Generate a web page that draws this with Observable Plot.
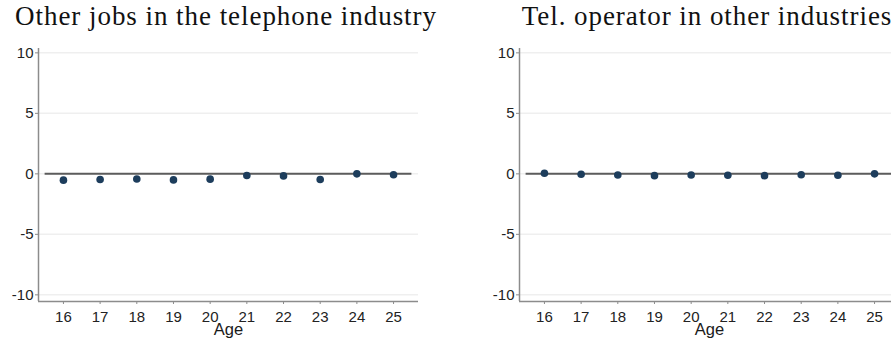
<!DOCTYPE html>
<html>
<head>
<meta charset="utf-8">
<script src="https://cdn.jsdelivr.net/npm/d3@7"></script>
<script src="https://cdn.jsdelivr.net/npm/@observablehq/plot@0.6"></script>
<style>
  html, body { margin: 0; padding: 0; background: #fff; }
  #wrap { position: relative; width: 891px; height: 344px; overflow: hidden; background: #fff; }
  .panel { position: absolute; top: 0; width: 450px; height: 344px; }
  .panel svg { position: absolute; left: 0; top: 0; }
  .panel svg text { font-family: "Liberation Sans", Arial, sans-serif; font-size: 15px; }
  .panel svg g[aria-label="text"] text { font-size: 16.5px; }
  .title {
    position: absolute; top: 1px; left: 226px; transform: translateX(-50%);
    white-space: nowrap; font-family: "Liberation Serif", "Times New Roman", serif;
    font-size: 27px; color: #111; letter-spacing: 0.95px;
  }
</style>
</head>
<body>
<div id="wrap"></div>
<script>
// Age at which the effect is estimated
const ages = [16, 17, 18, 19, 20, 21, 22, 23, 24, 25];

// Point estimates, other jobs in the telephone industry
const otherJobsTel = [-0.52, -0.47, -0.42, -0.50, -0.44, -0.14, -0.17, -0.47, 0.00, -0.08];

// Point estimates, telephone operator in other industries
const telOperatorOther = [0.05, -0.03, -0.10, -0.15, -0.10, -0.12, -0.15, -0.08, -0.12, 0.00];

const panelTitles = [
  "Other jobs in the telephone industry",
  "Tel. operator in other industries"
];
const yTicks = [-10, -5, 0, 5, 10];
const xLabel = "Age";

const sans = "'Liberation Sans', Arial, sans-serif";
const axisGray = "#8c8c8c";

function panel(values, title, left) {
  const data = ages.map((a, i) => ({age: a, est: values[i]}));
  const xDomain = [15.32, 25.68];
  const yDomain = [-10.55, 10.36];
  const lo = d3.min(ages) - 0.5, hi = d3.max(ages) + 0.5;

  const chart = Plot.plot({
    width: 450,
    height: 344,
    marginLeft: 38,
    marginRight: 32,
    marginTop: 48,
    marginBottom: 43,
    style: {fontFamily: sans, background: "transparent", overflow: "visible"},
    x: {domain: xDomain},
    y: {domain: yDomain},
    marks: [
      Plot.gridY(yTicks, {stroke: "#efefef", strokeOpacity: 1, strokeWidth: 1.5}),
      Plot.ruleX([xDomain[0]], {stroke: axisGray, strokeWidth: 1.5}),
      Plot.ruleY([yDomain[0]], {stroke: axisGray, strokeWidth: 1.5}),
      Plot.axisY(yTicks, {
        tickSize: 3, tickPadding: 2, stroke: axisGray, fill: "#222",
        label: null, tickFormat: d => String(d)
      }),
      Plot.axisX(ages, {
        tickSize: 3, tickPadding: 7, stroke: axisGray, fill: "#222",
        label: null, tickFormat: d => String(d)
      }),
      Plot.text([xLabel], {
        frameAnchor: "bottom", dy: 33, fill: "#1a1a1a"
      }),
      Plot.ruleY([0], {x1: lo, x2: hi, stroke: "#5c5c5c", strokeWidth: 2}),
      Plot.dot(data, {x: "age", y: "est", r: 3.8, fill: "#1d3d5c", stroke: "none"})
    ]
  });

  const div = document.createElement("div");
  div.className = "panel";
  div.style.left = left + "px";
  div.appendChild(chart);
  const t = document.createElement("div");
  t.className = "title";
  t.textContent = title;
  div.appendChild(t);
  document.getElementById("wrap").appendChild(div);
}

panel(otherJobsTel, panelTitles[0], 0);
panel(telOperatorOther, panelTitles[1], 481);
</script>
</body>
</html>
